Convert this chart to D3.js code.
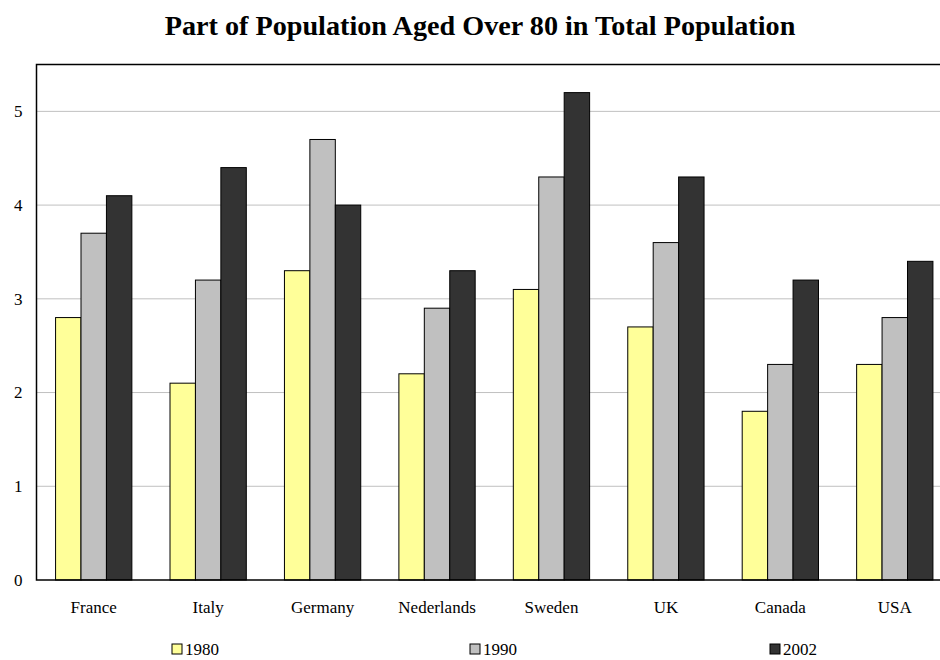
<!DOCTYPE html>
<html>
<head>
<meta charset="utf-8">
<script src="https://cdn.jsdelivr.net/npm/d3@7"></script>
<style>
  html, body { margin: 0; padding: 0; background: #fff; }
  svg { display: block; }
  text { font-family: "Liberation Serif", "Times New Roman", serif; fill: #000; }
</style>
</head>
<body>
<svg id="chart" width="940" height="660"></svg>
<script>
// Share of people aged over 80 in the total population (%)
const countries = ["France", "Italy", "Germany", "Nederlands", "Sweden", "UK", "Canada", "USA"];
const years = ["1980", "1990", "2002"];
const values1980 = [2.8, 2.1, 3.3, 2.2, 3.1, 2.7, 1.8, 2.3];
const values1990 = [3.7, 3.2, 4.7, 2.9, 4.3, 3.6, 2.3, 2.8];
const values2002 = [4.1, 4.4, 4.0, 3.3, 5.2, 4.3, 3.2, 3.4];
const yTicks = [0, 1, 2, 3, 4, 5];
const seriesColors = ["#FFFF99", "#C0C0C0", "#333333"];

const series = [values1980, values1990, values2002];
const rows = countries.map((c, i) => ({ country: c, vals: series.map((s, k) => ({ year: years[k], value: s[i], k })) }));

const svg = d3.select("#chart");
const plot = { left: 36.5, top: 64.5, right: 952, bottom: 580 };
const serif = "'Liberation Serif', 'Times New Roman', serif";

const x = d3.scaleBand().domain(countries).range([plot.left, plot.right]).paddingInner(1.5 / 4.5).paddingOuter(0.75 / 4.5);
const x1 = d3.scaleBand().domain(years).range([0, x.bandwidth()]);
const y = d3.scaleLinear().domain([0, 5.5]).range([plot.bottom, plot.top]);

// Title
svg.append("text")
  .attr("x", 480).attr("y", 35)
  .attr("text-anchor", "middle")
  .style("font-size", "28.2px").style("font-weight", "bold")
  .text("Part of Population Aged Over 80 in Total Population");

// Horizontal gridlines
svg.append("g").selectAll("line")
  .data(yTicks.filter(t => t > 0))
  .join("line")
  .attr("x1", plot.left).attr("x2", plot.right)
  .attr("y1", d => y(d)).attr("y2", d => y(d))
  .attr("stroke", "#C0C0C0").attr("stroke-width", 1);

// Bars
const groups = svg.append("g").selectAll("g")
  .data(rows)
  .join("g")
  .attr("transform", d => `translate(${x(d.country)},0)`);

groups.selectAll("rect")
  .data(d => d.vals)
  .join("rect")
  .attr("x", d => x1(d.year))
  .attr("width", x1.bandwidth())
  .attr("y", d => y(d.value))
  .attr("height", d => y(0) - y(d.value))
  .attr("fill", d => seriesColors[d.k])
  .attr("stroke", "#000").attr("stroke-width", 1);

// Plot frame
svg.append("rect")
  .attr("x", plot.left).attr("y", plot.top)
  .attr("width", plot.right - plot.left).attr("height", plot.bottom - plot.top)
  .attr("fill", "none").attr("stroke", "#000").attr("stroke-width", 1.5);

// Y axis labels
const yAxis = d3.axisLeft(y).tickValues(yTicks).tickSize(0).tickPadding(14).tickFormat(d3.format("d"));
const ya = svg.append("g").attr("transform", `translate(${plot.left},0)`).call(yAxis);
ya.select(".domain").remove();
ya.selectAll("text").style("font-size", "17px").style("font-family", serif);

// X axis labels
const xAxis = d3.axisBottom(x).tickSize(0).tickPadding(0);
const xa = svg.append("g").attr("transform", `translate(0,${plot.bottom})`).call(xAxis);
xa.select(".domain").remove();
xa.selectAll("text")
  .attr("y", 33).attr("dy", null)
  .style("font-size", "17px").style("font-family", serif);

// Legend
const legendX = [172, 470, 770];
const legend = svg.append("g").selectAll("g")
  .data(years)
  .join("g")
  .attr("transform", (d, i) => `translate(${legendX[i]},644)`);
legend.append("rect")
  .attr("width", 10).attr("height", 10)
  .attr("fill", (d, i) => seriesColors[i])
  .attr("stroke", "#000").attr("stroke-width", 1);
legend.append("text")
  .attr("x", 13).attr("y", 11)
  .style("font-size", "17px")
  .text(d => d);
</script>
</body>
</html>
